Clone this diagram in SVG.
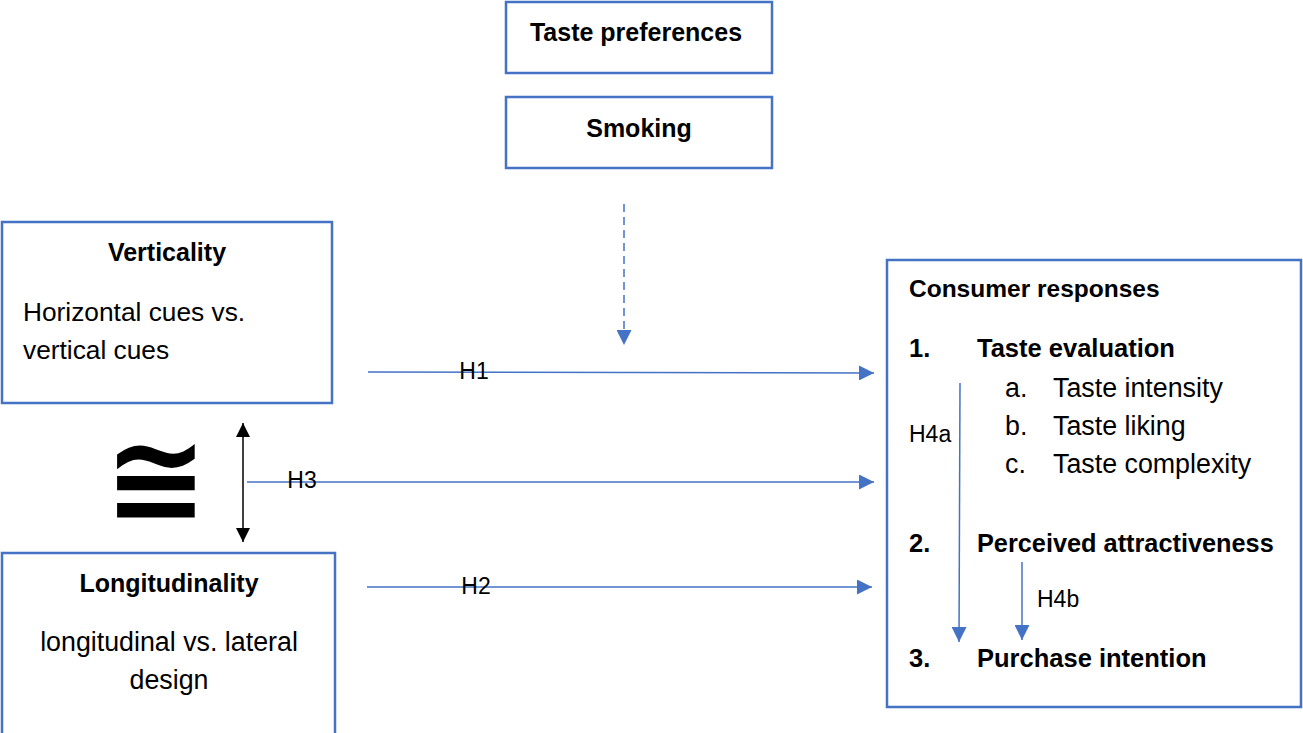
<svg xmlns="http://www.w3.org/2000/svg" width="1303" height="733" viewBox="0 0 1303 733">
<style>
.box{fill:#fff;stroke:#4472C4;stroke-width:2.5}
.b{font-family:"Liberation Sans",Arial,sans-serif;font-weight:bold;fill:#000}
.r{font-family:"Liberation Sans",Arial,sans-serif;fill:#000}
.lbl{font-family:"Liberation Sans",Arial,sans-serif;font-size:23px;fill:#000}
.con{stroke:#4472C4;stroke-width:1.5;fill:none}
</style>
<defs>
<marker id="ab" viewBox="0 0 10 10" refX="10" refY="5" markerWidth="15" markerHeight="15" markerUnits="userSpaceOnUse" orient="auto"><path d="M0,0 L10,5 L0,10 Z" fill="#4472C4"/></marker>
<marker id="ak" viewBox="0 0 10 10" refX="10" refY="5" markerWidth="14" markerHeight="14" markerUnits="userSpaceOnUse" orient="auto-start-reverse"><path d="M0,0 L10,5 L0,10 Z" fill="#000"/></marker>
</defs>
<rect width="1303" height="733" fill="#fff"/>
<g id="taste-preferences">
<rect class="box" x="506" y="2" width="266" height="71"/>
<text class="b" x="636" y="41" font-size="25" text-anchor="middle">Taste preferences</text>
</g>
<g id="smoking">
<rect class="box" x="506" y="97" width="266" height="71"/>
<text class="b" x="639" y="137" font-size="25" text-anchor="middle">Smoking</text>
</g>
<g id="verticality">
<rect class="box" x="2" y="222" width="330" height="181"/>
<text class="b" x="167" y="261" font-size="25" text-anchor="middle">Verticality</text>
<text class="r" x="23" y="321" font-size="26.3">Horizontal cues vs.</text>
<text class="r" x="23" y="359" font-size="26.3">vertical cues</text>
</g>
<g id="longitudinality">
<rect class="box" x="2" y="553" width="333" height="195"/>
<text class="b" x="169" y="592" font-size="25" text-anchor="middle">Longitudinality</text>
<text class="r" x="169" y="651" font-size="26.8" text-anchor="middle">longitudinal vs. lateral</text>
<text class="r" x="169" y="689" font-size="26.8" text-anchor="middle">design</text>
</g>
<g id="congruence">
<text x="156" y="522" font-family="DejaVu Sans,sans-serif" font-weight="bold" font-size="124" text-anchor="middle" fill="#000">≅</text>
</g>
<g id="consumer-responses">
<rect class="box" x="887" y="260" width="414" height="447"/>
<text class="b" x="909" y="297" font-size="24.5">Consumer responses</text>
<text class="b" x="909" y="357" font-size="25.5">1.</text>
<text class="b" x="977" y="357" font-size="25.5">Taste evaluation</text>
<text class="r" x="1005" y="397" font-size="26.8">a.</text>
<text class="r" x="1053" y="397" font-size="26.8">Taste intensity</text>
<text class="r" x="1005" y="435" font-size="26.8">b.</text>
<text class="r" x="1053" y="435" font-size="26.8">Taste liking</text>
<text class="r" x="1005" y="473" font-size="26.8">c.</text>
<text class="r" x="1053" y="473" font-size="26.8">Taste complexity</text>
<text class="b" x="909" y="552" font-size="25.5">2.</text>
<text class="b" x="977" y="552" font-size="25.3">Perceived attractiveness</text>
<text class="b" x="909" y="667" font-size="25.5">3.</text>
<text class="b" x="977" y="667" font-size="25.5">Purchase intention</text>
</g>
<g id="connectors">
<line class="con" x1="624" y1="204" x2="624" y2="345" stroke-dasharray="8,5" marker-end="url(#ab)"/>
<line class="con" x1="368" y1="372" x2="874" y2="373" marker-end="url(#ab)"/>
<line class="con" x1="247" y1="482" x2="874" y2="482" marker-end="url(#ab)"/>
<line class="con" x1="367" y1="587" x2="872" y2="587" marker-end="url(#ab)"/>
<line x1="243" y1="423" x2="243" y2="542" stroke="#000" stroke-width="1.5" marker-start="url(#ak)" marker-end="url(#ak)"/>
<line class="con" x1="960" y1="383" x2="959" y2="642" marker-end="url(#ab)"/>
<line class="con" x1="1022" y1="562" x2="1022" y2="640" marker-end="url(#ab)"/>
<text class="lbl" x="474" y="379" text-anchor="middle">H1</text>
<text class="lbl" x="302" y="488" text-anchor="middle">H3</text>
<text class="lbl" x="476" y="594" text-anchor="middle">H2</text>
<text class="lbl" x="909" y="442">H4a</text>
<text class="lbl" x="1037" y="607">H4b</text>
</g>
</svg>
